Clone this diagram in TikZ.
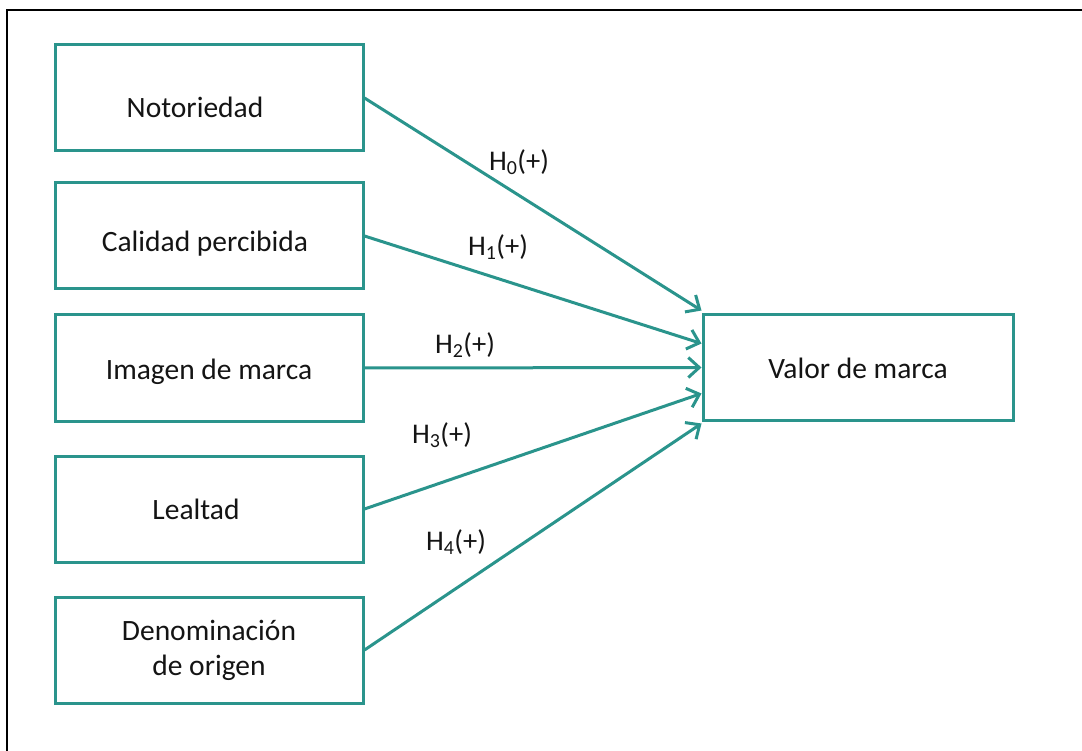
\documentclass[tikz,border=0pt]{standalone}
\usepackage{fontspec}
\setmainfont{Carlito}
\usetikzlibrary{arrows.meta,calc}
\definecolor{teal1}{RGB}{42,148,140}
\definecolor{txt1}{RGB}{20,20,20}
\newcommand{\lowertext}[2]{\raisebox{-#1}[0.7em][0.2em]{#2}}
\begin{document}
\begin{tikzpicture}[x=1pt,y=-1pt,
  box/.style={draw=teal1, line width=3pt, minimum width=308pt, minimum height=106pt,
    inner sep=0pt, align=center, text=txt1, font=\fontsize{29.5}{35}\selectfont},
  lab/.style={text=txt1, font=\fontsize{28.5}{34}\selectfont, inner sep=0pt},
  conn/.style={draw=teal1, line width=3pt,
    -{Straight Barb[length=11pt,width=20pt,line width=3pt]}}]
\useasboundingbox (0,0) rectangle (1082,751);
\draw[line width=2pt] (7,751) -- (7,10) -- (1082,10);
\node[box] (b0) at (209,98) {\lowertext{12pt}{Notoriedad\hspace*{28pt}}};
\node[box] (b1) at (209,236) {\lowertext{8pt}{Calidad percibida\hspace*{8pt}}};
\node[box] (b2) at (209,368) {\lowertext{4pt}{Imagen de marca}};
\node[box] (b3) at (209,509) {Lealtad\hspace*{26pt}};
\node[box] (b4) at (209,650) {Denominación\\de origen};
\node[box, minimum width=310pt, minimum height=105pt] (v) at (858,367.5) {\lowertext{4pt}{Valor de marca}};
\coordinate (e0) at ($(v.west)+(0,-57)$);
\coordinate (e1) at ($(v.west)+(0,-24)$);
\coordinate (e2) at ($(v.west)+(0,0)$);
\coordinate (e3) at ($(v.west)+(0,26)$);
\coordinate (e4) at ($(v.west)+(0,56)$);
\draw[conn] (b0.east) -- (e0);
\draw[conn] (b1.east) -- (e1);
\draw[conn] (b2.east) -- (e2);
\draw[conn] (b3.east) -- (e3);
\draw[conn] (b4.east) -- (e4);
\node[lab] (h0) at (519,162) {H\textsubscript{0}(+)};
\node[lab] (h1) at (498,247) {H\textsubscript{1}(+)};
\node[lab] (h2) at (465,345) {H\textsubscript{2}(+)};
\node[lab] (h3) at (442,435) {H\textsubscript{3}(+)};
\node[lab] (h4) at (456,542) {H\textsubscript{4}(+)};
\end{tikzpicture}
\end{document}
